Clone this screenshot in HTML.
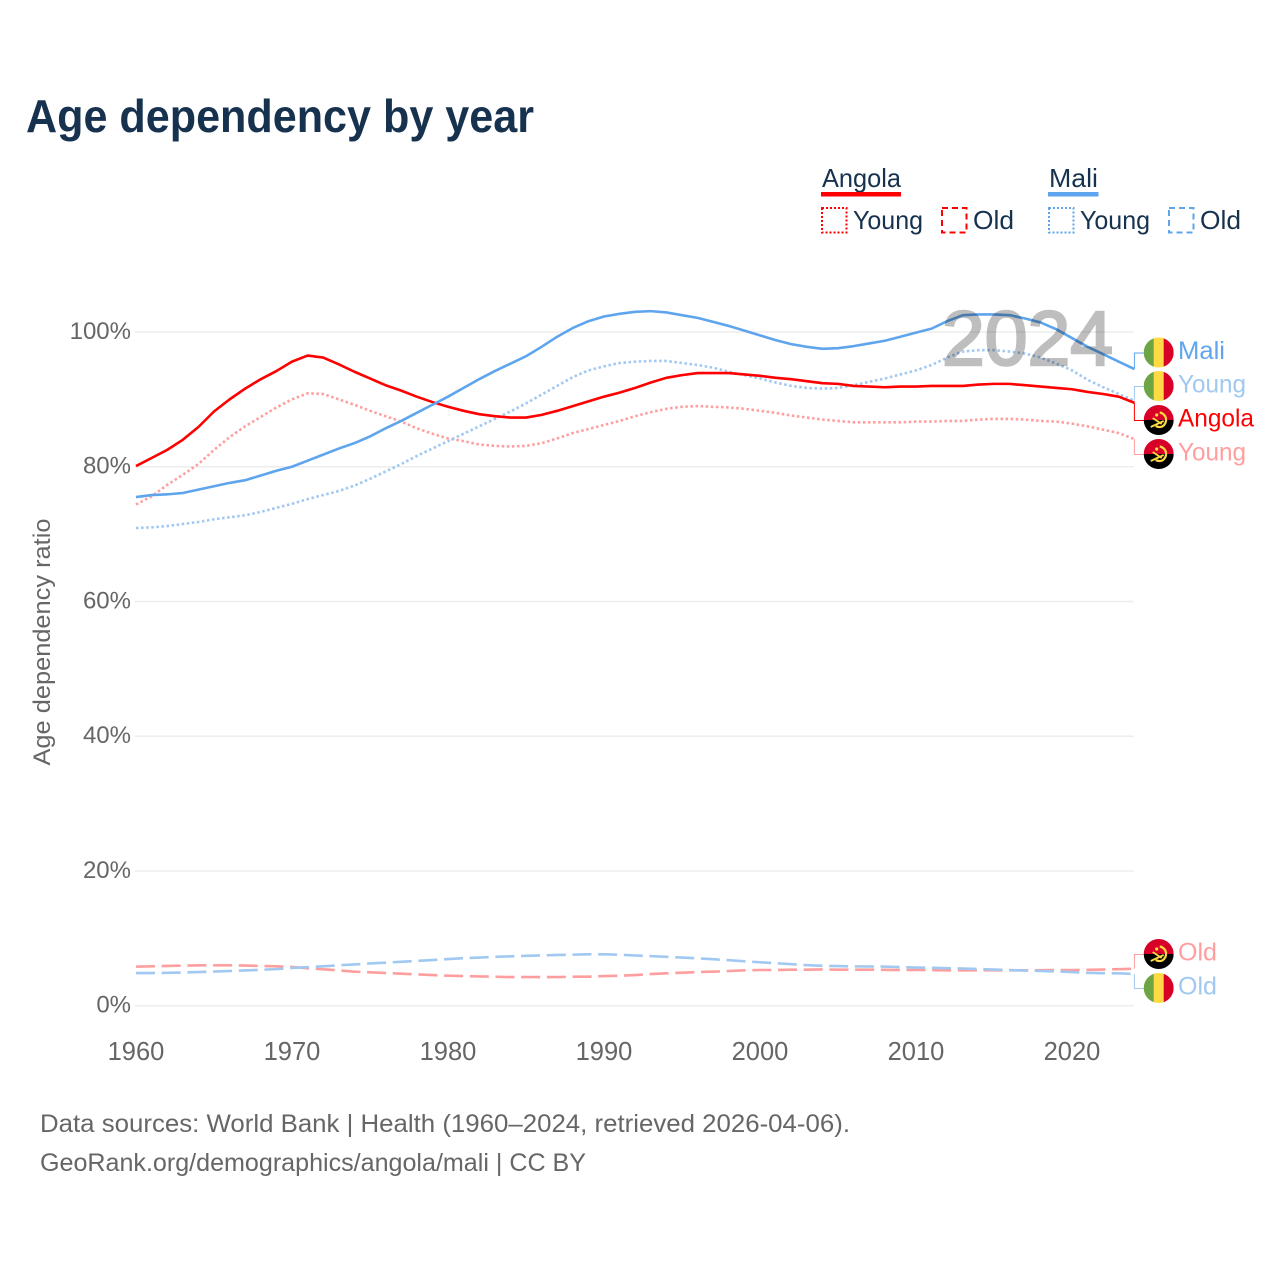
<!DOCTYPE html>
<html lang="en">
<head>
<meta charset="utf-8">
<title>Age dependency by year</title>
<style>
html,body{margin:0;padding:0;background:#fff;}
svg{display:block;font-family:"Liberation Sans",sans-serif;}
</style>
</head>
<body>
<svg id="chart" xmlns="http://www.w3.org/2000/svg" width="1280" height="1280" viewBox="0 0 1280 1280">
  <defs>
    <clipPath id="flag-clip"><circle cx="0" cy="0" r="15"></circle></clipPath>
  </defs>
  <rect width="1280" height="1280" fill="#fff"></rect>
  <text x="26" y="132" font-size="46" font-weight="700" fill="#17324f" textLength="508" lengthAdjust="spacingAndGlyphs">Age dependency by year</text>

  <g font-size="26" fill="#17324f">
    <text x="822" y="187" textLength="79" lengthAdjust="spacingAndGlyphs">Angola</text>
    <rect x="821" y="192" width="80" height="4.5" fill="#ff0000"></rect>
    <rect x="822" y="208" width="24.5" height="24.5" fill="none" stroke="#ff0000" stroke-width="2" stroke-dasharray="2 2"></rect>
    <text x="853" y="229" textLength="70" lengthAdjust="spacingAndGlyphs">Young</text>
    <rect x="942" y="208" width="24.5" height="24.5" fill="none" stroke="#ff0000" stroke-width="2" stroke-dasharray="6 4"></rect>
    <text x="973" y="229" textLength="41" lengthAdjust="spacingAndGlyphs">Old</text>
    <text x="1049" y="187" textLength="49" lengthAdjust="spacingAndGlyphs">Mali</text>
    <rect x="1048" y="192" width="50.5" height="4.5" fill="#5ea5ee"></rect>
    <rect x="1049" y="208" width="24.5" height="24.5" fill="none" stroke="#5ea5ee" stroke-width="2" stroke-dasharray="2 2"></rect>
    <text x="1080" y="229" textLength="70" lengthAdjust="spacingAndGlyphs">Young</text>
    <rect x="1169" y="208" width="24.5" height="24.5" fill="none" stroke="#5ea5ee" stroke-width="2" stroke-dasharray="6 4"></rect>
    <text x="1200" y="229" textLength="41" lengthAdjust="spacingAndGlyphs">Old</text>
  </g>

  <g id="grid"></g>
  <g id="y-ticks"></g>
  <g id="x-ticks"></g>
  <text transform="translate(50,642) rotate(-90)" text-anchor="middle" font-size="24" fill="#666" textLength="247" lengthAdjust="spacingAndGlyphs">Age dependency ratio</text>
  <g id="lines"></g>
  <text x="942" y="365" font-size="77" fill="#000" stroke="#000" stroke-width="2.5" opacity="0.25" textLength="171" lengthAdjust="spacingAndGlyphs">2024</text>
  <g id="end-labels"></g>

  <text x="40" y="1132" font-size="25" fill="#666" textLength="810" lengthAdjust="spacingAndGlyphs">Data sources: World Bank | Health (1960–2024, retrieved 2026-04-06).</text>
  <text x="40" y="1171" font-size="25" fill="#666" textLength="546" lengthAdjust="spacingAndGlyphs">GeoRank.org/demographics/angola/mali | CC BY</text>
</svg>
<script>
const startYear = 1960;
const yTickValues = [0, 20, 40, 60, 80, 100];
const xTickValues = [1960, 1970, 1980, 1990, 2000, 2010, 2020];

const angolaTotal = [80.1,81.3,82.5,84.0,85.9,88.2,90.0,91.6,93.0,94.2,95.6,96.5,96.2,95.2,94.1,93.1,92.1,91.3,90.4,89.6,88.9,88.3,87.8,87.5,87.3,87.3,87.7,88.3,89.0,89.7,90.4,91.0,91.7,92.5,93.2,93.6,93.9,93.9,93.9,93.7,93.5,93.2,93.0,92.7,92.4,92.3,92.0,91.9,91.8,91.9,91.9,92.0,92.0,92.0,92.2,92.3,92.3,92.1,91.9,91.7,91.5,91.1,90.8,90.4,89.5];
const maliTotal = [75.5,75.8,75.9,76.1,76.6,77.1,77.6,78.0,78.7,79.4,80.0,80.9,81.8,82.7,83.5,84.5,85.7,86.8,88.0,89.2,90.4,91.7,93.0,94.2,95.3,96.4,97.8,99.3,100.6,101.6,102.3,102.7,103.0,103.1,102.9,102.5,102.1,101.5,100.9,100.2,99.5,98.8,98.2,97.8,97.5,97.6,97.9,98.3,98.7,99.3,99.9,100.5,101.6,102.5,102.6,102.6,102.5,102.0,101.4,100.4,99.1,97.8,96.7,95.6,94.5];
const angolaYoung = [74.4,75.6,77.3,78.8,80.4,82.5,84.4,86.0,87.4,88.8,90.0,90.9,90.8,90.0,89.2,88.3,87.5,86.7,85.7,84.9,84.2,83.8,83.3,83.1,83.0,83.1,83.5,84.2,85.0,85.6,86.2,86.8,87.5,88.1,88.6,88.9,89.0,88.9,88.8,88.6,88.3,88.0,87.6,87.3,87.0,86.8,86.6,86.6,86.6,86.6,86.7,86.7,86.8,86.8,87.0,87.1,87.1,87.0,86.8,86.7,86.4,86.0,85.5,85.0,84.1];
const maliYoung = [70.9,71.0,71.2,71.5,71.8,72.2,72.5,72.8,73.3,73.9,74.5,75.2,75.8,76.4,77.2,78.2,79.3,80.4,81.6,82.7,83.8,84.9,86.0,87.1,88.2,89.4,90.7,92.0,93.3,94.3,94.9,95.4,95.6,95.7,95.7,95.4,95.1,94.7,94.1,93.6,93.1,92.5,92.0,91.7,91.6,91.7,92.1,92.6,93.1,93.7,94.3,95.1,96.2,97.1,97.3,97.3,97.1,96.8,96.2,95.3,94.3,92.9,91.8,90.8,89.8];
const angolaOld = [5.8,5.85,5.9,5.95,6.0,6.0,6.0,5.95,5.9,5.85,5.75,5.55,5.4,5.25,5.05,4.95,4.85,4.75,4.65,4.55,4.45,4.4,4.35,4.3,4.25,4.25,4.25,4.25,4.3,4.3,4.4,4.45,4.55,4.7,4.8,4.9,5.0,5.05,5.15,5.25,5.3,5.3,5.35,5.35,5.38,5.35,5.35,5.35,5.32,5.3,5.3,5.28,5.25,5.25,5.25,5.25,5.25,5.25,5.27,5.3,5.3,5.32,5.37,5.42,5.5];
const maliOld = [4.85,4.85,4.88,4.93,5.0,5.07,5.15,5.23,5.33,5.43,5.6,5.72,5.85,6.0,6.13,6.27,6.39,6.52,6.65,6.78,6.92,7.05,7.15,7.25,7.33,7.4,7.47,7.53,7.58,7.63,7.63,7.57,7.45,7.36,7.25,7.15,7.03,6.9,6.75,6.6,6.45,6.3,6.17,6.02,5.92,5.88,5.84,5.82,5.8,5.73,5.66,5.62,5.57,5.52,5.45,5.37,5.29,5.22,5.15,5.08,5.0,4.88,4.83,4.8,4.7];

const NS = 'http://www.w3.org/2000/svg';
const xScale = function (year) { return 136 + (year - startYear) * 15.6; };
const yScale = function (v) { return 1005.7 - v * 6.737; };

function make(tag, parent) {
  const el = document.createElementNS(NS, tag);
  parent.appendChild(el);
  return el;
}

// gridlines and y tick labels
yTickValues.forEach(function (v) {
  const line = make('line', document.getElementById('grid'));
  
  
  line.setAttribute('x1', 135);
  line.setAttribute('x2', xScale(2024) - 0.5);
  line.setAttribute('y1', yScale(v));
  line.setAttribute('y2', yScale(v));
  line.setAttribute('stroke', '#ededed');
  line.setAttribute('stroke-width', 1.5);

  const label = make('text', document.getElementById('y-ticks'));
  
  
  label.setAttribute('x', 131);
  label.setAttribute('y', yScale(v) + 7);
  label.setAttribute('text-anchor', 'end');
  label.setAttribute('font-size', 24);
  label.setAttribute('fill', '#666');
  label.textContent = v + '%';
});

// x tick labels
xTickValues.forEach(function (year) {
  const label = make('text', document.getElementById('x-ticks'));
  
  
  label.setAttribute('x', xScale(year));
  label.setAttribute('y', 1060);
  label.setAttribute('text-anchor', 'middle');
  label.setAttribute('font-size', 25.5);
  label.setAttribute('fill', '#666');
  label.textContent = year;
});

const RED = '#ff0000', BLUE = '#5ea5ee', LRED = '#ff9e9e', LBLUE = '#a0c8f1';

// series, in paint order
const seriesList = [
  { name: 'angola-young', values: angolaYoung, color: LRED, dash: '2.5 2.6' },
  { name: 'angola-old', values: angolaOld, color: LRED, dash: '19 6.7' },
  { name: 'mali-young', values: maliYoung, color: LBLUE, dash: '2.5 2.6' },
  { name: 'mali-old', values: maliOld, color: LBLUE, dash: '19 6.7' },
  { name: 'angola-total', values: angolaTotal, color: RED, dash: null },
  { name: 'mali-total', values: maliTotal, color: BLUE, dash: null }
];

seriesList.forEach(function (s) {
  const path = make('path', document.getElementById('lines'));
  
  
  const d = s.values.map(function (v, i) {
    return (i ? 'L' : 'M') + xScale(startYear + i).toFixed(2) + ' ' + yScale(v).toFixed(2);
  }).join('');
  path.setAttribute('d', d);
  path.setAttribute('fill', 'none');
  path.setAttribute('stroke', s.color);
  path.setAttribute('stroke-width', 2.6);
  path.setAttribute('stroke-linejoin', 'round');
  if (s.dash) path.setAttribute('stroke-dasharray', s.dash);
});

// end labels with leader lines and flags
const endLabels = [
  { id: 'mali-total', text: 'Mali', values: maliTotal, color: BLUE, country: 'mali', slotY: 353, width: 47 },
  { id: 'mali-young', text: 'Young', values: maliYoung, color: LBLUE, country: 'mali', slotY: 386.5, width: 68 },
  { id: 'angola-total', text: 'Angola', values: angolaTotal, color: RED, country: 'angola', slotY: 420.5, width: 76 },
  { id: 'angola-young', text: 'Young', values: angolaYoung, color: LRED, country: 'angola', slotY: 454.5, width: 68 },
  { id: 'angola-old', text: 'Old', values: angolaOld, color: LRED, country: 'angola', slotY: 954.5, width: 39 },
  { id: 'mali-old', text: 'Old', values: maliOld, color: LBLUE, country: 'mali', slotY: 988.5, width: 39 }
];

function rectIn(parent, x, y, w, h, fill) {
  const r = make('rect', parent);
  r.setAttribute('x', x);
  r.setAttribute('y', y);
  r.setAttribute('width', w);
  r.setAttribute('height', h);
  r.setAttribute('fill', fill);
  return r;
}

function drawFlag(parent, country, cy) {
  const g = make('g', parent);
  
  
  g.setAttribute('transform', 'translate(1158.7,' + cy + ')');
  const inner = make('g', g);
  inner.setAttribute('clip-path', 'url(#flag-clip)');
  if (country === 'mali') {
    rectIn(inner, -15, -15, 10.5, 30, '#6da544');
    rectIn(inner, -5, -15, 10.5, 30, '#ffda44');
    rectIn(inner, 5, -15, 10, 30, '#d80027');
  } else {
    rectIn(inner, -15, -15, 30, 15, '#d80027');
    rectIn(inner, -15, 0, 30, 15, '#000');
    const gear = make('path', inner);
    gear.setAttribute('d', 'M1 -7.5A7.5 7.5 0 0 1 3.5 6.5A7.5 7.5 0 0 1 -3 6');
    gear.setAttribute('fill', 'none');
    gear.setAttribute('stroke', '#ffda44');
    gear.setAttribute('stroke-width', 2.2);
    const blade = make('path', inner);
    blade.setAttribute('d', 'M-8 7L5 1M-6 -2L3 4');
    blade.setAttribute('fill', 'none');
    blade.setAttribute('stroke', '#ffda44');
    blade.setAttribute('stroke-width', 1.8);
    const star = make('circle', inner);
    star.setAttribute('cx', -2);
    star.setAttribute('cy', -5);
    star.setAttribute('r', 1.6);
    star.setAttribute('fill', '#ffda44');
  }
}

endLabels.forEach(function (item) {
  const parent = document.getElementById('end-labels');
  const lastV = item.values[item.values.length - 1];
  const x0 = xScale(2024);

  const leader = make('path', parent);
  
  
  leader.setAttribute('d', 'M' + x0 + ' ' + yScale(lastV).toFixed(2) + 'V' + item.slotY + 'H1144');
  leader.setAttribute('fill', 'none');
  leader.setAttribute('stroke', item.color);
  leader.setAttribute('stroke-width', 1);

  drawFlag(parent, item.country, item.slotY - 0.5);

  const label = make('text', parent);
  
  
  label.setAttribute('x', 1178);
  label.setAttribute('y', item.slotY + 6);
  label.setAttribute('font-size', 25);
  label.setAttribute('fill', item.color);
  label.setAttribute('textLength', item.width);
  label.setAttribute('lengthAdjust', 'spacingAndGlyphs');
  label.textContent = item.text;
});
</script>
</body>
</html>
